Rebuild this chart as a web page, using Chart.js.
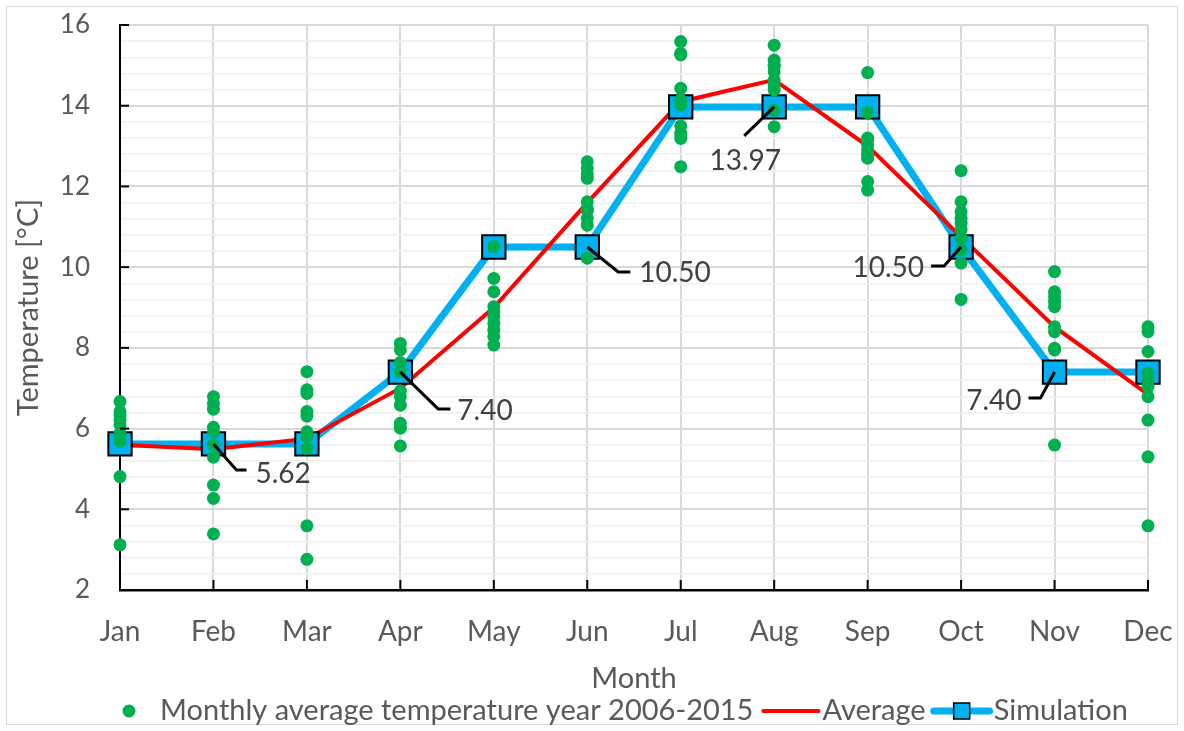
<!DOCTYPE html>
<html><head><meta charset="utf-8">
<script src="https://cdn.jsdelivr.net/npm/chart.js@4/dist/chart.umd.min.js"></script>
<style>html,body{margin:0;padding:0;background:#fff;}canvas{display:block}</style>
</head><body>
<canvas id="c" width="1184" height="731"></canvas>
<script>
const months = ['Jan','Feb','Mar','Apr','May','Jun','Jul','Aug','Sep','Oct','Nov','Dec'];
const tJan = [6.67, 6.42, 6.34, 6.21, 6.09, 5.89, 5.75, 5.68, 4.81, 3.12];
const tFeb = [6.79, 6.62, 6.48, 6.03, 5.92, 5.60, 5.29, 4.60, 4.27, 3.39];
const tMar = [7.41, 6.96, 6.87, 6.42, 6.31, 5.92, 5.80, 5.51, 3.59, 2.76];
const tApr = [8.11, 7.95, 7.64, 7.40, 6.93, 6.79, 6.58, 6.13, 6.01, 5.57];
const tMay = [10.51, 9.72, 9.39, 9.02, 8.90, 8.77, 8.61, 8.44, 8.28, 8.07];
const tJun = [12.61, 12.45, 12.30, 12.20, 11.62, 11.46, 11.40, 11.21, 11.04, 10.22];
const tJul = [15.59, 15.30, 15.26, 14.43, 14.14, 14.02, 13.50, 13.32, 13.19, 12.49];
const tAug = [15.50, 15.13, 15.01, 14.98, 14.84, 14.64, 14.51, 14.39, 13.89, 13.48];
const tSep = [14.82, 13.83, 13.20, 13.15, 13.03, 12.90, 12.80, 12.70, 12.12, 11.91];
const tOct = [12.39, 11.62, 11.37, 11.21, 11.09, 10.92, 10.72, 10.43, 10.10, 9.20];
const tNov = [9.89, 9.39, 9.27, 9.15, 9.02, 8.52, 8.40, 7.99, 7.95, 5.59];
const tDec = [8.52, 8.40, 7.91, 7.37, 7.20, 7.04, 6.79, 6.21, 5.30, 3.59];
const averageValues = [5.60, 5.49, 5.75, 7.00, 9.00, 11.60, 14.10, 14.64, 13.00, 10.75, 8.52, 6.85];
const simulationValues = [5.62, 5.62, 5.62, 7.40, 10.50, 10.50, 13.97, 13.97, 13.97, 10.50, 7.40, 7.40];
const yTickLabels = ['2','4','6','8','10','12','14','16'];
const labelledMonths = ['Feb','Apr','Jun','Aug','Oct','Nov'];

const observed = [tJan,tFeb,tMar,tApr,tMay,tJun,tJul,tAug,tSep,tOct,tNov,tDec];
const dotPoints = [];
observed.forEach((arr,i)=>arr.forEach(v=>dotPoints.push({x:i,y:v})));
const avgPoints = averageValues.map((v,i)=>({x:i,y:v}));
const simPoints = simulationValues.map((v,i)=>({x:i,y:v}));

const FONT = 'Lato';
const TXT = '#595959';
const NUM_SIZE = 26, LBL_SIZE = 28, CAT_SIZE = 28, TITLE_SIZE = 29;
const isMajor = v => Math.abs(v/2 - Math.round(v/2)) < 1e-6;

// leader-line offsets (pixels) relative to the labelled point
const labelGeom = {
  Feb: {d:[23,26], h:10, tx:42, ty:30, align:'left'},
  Apr: {d:[38,37], h:12, tx:57, ty:39, align:'left'},
  Jun: {d:[31,25], h:12, tx:52, ty:26, align:'left'},
  Aug: {d:[-30,29], h:0, tx:-29, ty:54, align:'center'},
  Oct: {d:[-17,19], h:-13, tx:-37, ty:21, align:'right'},
  Nov: {d:[-14,26], h:-12, tx:-33, ty:29, align:'right'}
};

const extras = {
  id:'extras',
  beforeDraw(chart){
    const ctx = chart.ctx;
    ctx.save();
    ctx.fillStyle='#fff'; ctx.fillRect(0,0,chart.width,chart.height);
    ctx.strokeStyle='#D9D9D9'; ctx.lineWidth=1;
    ctx.strokeRect(6.5,6.5,chart.width-13,chart.height-13);
    ctx.restore();
  },
  afterDatasetsDraw(chart){
    const ctx = chart.ctx, xs = chart.scales.x, ys = chart.scales.y;
    ctx.save();
    // inside tick marks
    ctx.strokeStyle='#000'; ctx.lineWidth=2;
    yTickLabels.forEach(t=>{
      const py = ys.getPixelForValue(Number(t));
      ctx.beginPath(); ctx.moveTo(xs.left, py); ctx.lineTo(xs.left+9, py); ctx.stroke();
    });
    months.forEach((m,i)=>{
      const px = xs.getPixelForValue(i);
      ctx.beginPath(); ctx.moveTo(px, ys.bottom); ctx.lineTo(px, ys.bottom-10); ctx.stroke();
    });
    // data labels
    const meta = chart.getDatasetMeta(1);
    ctx.font = LBL_SIZE+'px '+FONT;
    ctx.fillStyle = '#404040';
    ctx.textBaseline = 'middle';
    labelledMonths.forEach(m=>{
      const i = months.indexOf(m);
      const p = meta.data[i];
      const g = labelGeom[m];
      const x1 = p.x + g.d[0], y1 = p.y + g.d[1];
      ctx.strokeStyle='#000'; ctx.lineWidth=3; ctx.lineJoin='round';
      ctx.beginPath(); ctx.moveTo(p.x, p.y); ctx.lineTo(x1, y1);
      if (g.h) ctx.lineTo(x1+g.h, y1);
      ctx.stroke();
      ctx.textAlign = g.align;
      ctx.fillText(simulationValues[i].toFixed(2), p.x+g.tx, p.y+g.ty);
    });
    ctx.restore();
  },
  afterDraw(chart){
    const ctx = chart.ctx;
    const ly = 711;
    ctx.save();
    ctx.font = TITLE_SIZE+'px '+FONT;
    ctx.fillStyle = TXT;
    ctx.textBaseline = 'middle';
    ctx.textAlign = 'left';
    ctx.beginPath(); ctx.arc(129, ly, 6.5, 0, Math.PI*2); ctx.fillStyle='#00B050'; ctx.fill();
    ctx.fillStyle = TXT;
    const t1 = 'Monthly average temperature year 2006-2015';
    ctx.fillText(t1, 160, ly);
    let x = 160 + ctx.measureText(t1).width + 10;
    ctx.strokeStyle='#FF0000'; ctx.lineWidth=4; ctx.lineCap='round';
    ctx.beginPath(); ctx.moveTo(x, ly); ctx.lineTo(x+55, ly); ctx.stroke();
    x += 59;
    ctx.fillText('Average', x, ly);
    x += ctx.measureText('Average').width + 8;
    ctx.strokeStyle='#00B0F0'; ctx.lineWidth=7;
    ctx.beginPath(); ctx.moveTo(x, ly); ctx.lineTo(x+56, ly); ctx.stroke();
    ctx.fillStyle='#00B0F0'; ctx.fillRect(x+20, ly-8, 16, 16);
    ctx.strokeStyle='#000'; ctx.lineWidth=1.5; ctx.strokeRect(x+20, ly-8, 16, 16);
    x += 60;
    ctx.fillStyle = TXT;
    ctx.fillText('Simulation', x, ly);
    ctx.restore();
  }
};

new Chart(document.getElementById('c'), {
  type:'line',
  data:{datasets:[
    {label:'Monthly average temperature year 2006-2015', data:dotPoints, showLine:false,
     pointRadius:6.5, pointHoverRadius:6.5, pointBackgroundColor:'#00B050', pointBorderWidth:0, borderColor:'#00B050', order:0, clip:false},
    {label:'Simulation markers', data:simPoints, showLine:false, pointStyle:'rect',
     pointRadius:16.5, pointHoverRadius:16.5, pointBackgroundColor:'#00B0F0', pointBorderColor:'#000', pointBorderWidth:2, order:1, clip:false},
    {label:'Average', data:avgPoints, borderColor:'#FF0000', borderWidth:4, pointRadius:0, tension:0, order:2, clip:false},
    {label:'Simulation', data:simPoints, borderColor:'#00B0F0', borderWidth:7, pointRadius:0, tension:0, order:3, clip:false, borderJoinStyle:'round'}
  ]},
  options:{
    responsive:false, animation:false, devicePixelRatio:1,
    layout:{padding:{top:25,right:36,bottom:0,left:0}},
    plugins:{legend:{display:false}, tooltip:{enabled:false}},
    events:[],
    scales:{
      x:{type:'linear', min:0, max:11,
        afterFit:s=>{s.height=141; s.paddingLeft=0; s.paddingRight=0;},
        afterBuildTicks:s=>{s.ticks = months.map((m,i)=>({value:i}));},
        ticks:{autoSkip:false, maxRotation:0, padding:25, color:TXT, font:{family:FONT,size:CAT_SIZE}, callback:v=>months[v]},
        grid:{drawTicks:false, color:'#D9D9D9', lineWidth:2},
        border:{color:'#000', width:2.5},
        title:{display:true, text:'Month', color:TXT, font:{family:FONT,size:TITLE_SIZE}, padding:{top:0,bottom:34.6}}
      },
      y:{type:'linear', min:2, max:16,
        afterFit:s=>{s.width=120; s.paddingTop=0; s.paddingBottom=0;},
        ticks:{stepSize:0.4, autoSkip:false, padding:30, color:TXT, font:{family:FONT,size:NUM_SIZE},
          callback:v=> isMajor(v) ? yTickLabels[Math.round((v-2)/2)] : ''},
        grid:{drawTicks:false, color:c=> isMajor(c.tick.value)?'#D9D9D9':'#F0F0F0', lineWidth:c=> isMajor(c.tick.value)?2:1.5},
        border:{color:'#000', width:2},
        title:{display:true, text:'Temperature [°C]', color:TXT, font:{family:FONT,size:TITLE_SIZE}, padding:{top:11.6,bottom:0}}
      }
    }
  },
  plugins:[extras]
});
</script>
</body></html>
